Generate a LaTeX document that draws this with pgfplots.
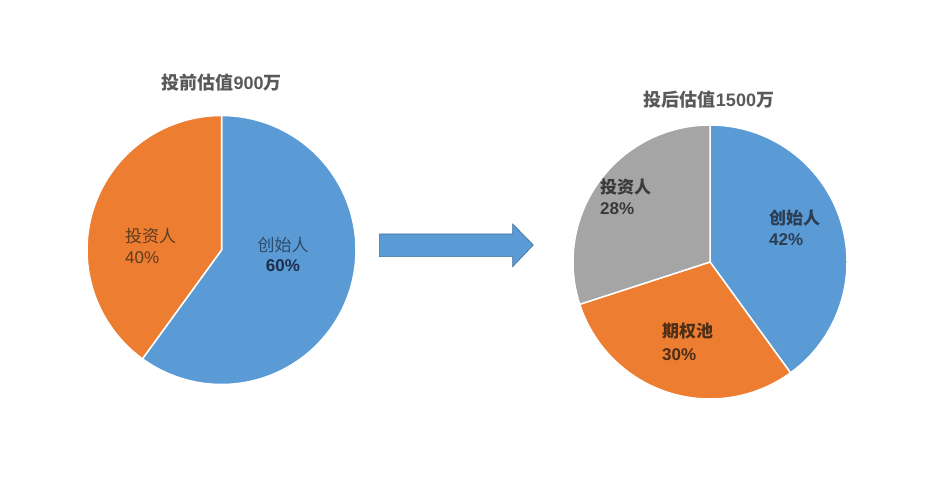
\documentclass[border=0pt]{standalone}
\usepackage{pgfplots}
\pgfplotsset{compat=1.18}
\usepackage{pgfplotstable}
\usepackage{fontspec}
\setmainfont{Liberation Sans}
\newfontfamily\cjk{Noto Sans CJK SC}
\definecolor{pblue}{HTML}{5B9BD5}
\definecolor{porange}{HTML}{ED7D31}
\definecolor{pgray}{HTML}{A5A5A5}
\definecolor{aedge}{HTML}{41719C}
\definecolor{titlegray}{HTML}{595959}

% shares as drawn (percent of the full circle), clockwise from 12 o'clock
\pgfplotstableread{
value
60
40
}\prepie
\pgfplotstableread{
value
40
30
30
}\postpie

\pgfplotstablegetelem{0}{value}\of\prepie \let\pA\pgfplotsretval
\pgfplotstablegetelem{1}{value}\of\prepie \let\pB\pgfplotsretval
\pgfplotstablegetelem{0}{value}\of\postpie \let\qA\pgfplotsretval
\pgfplotstablegetelem{1}{value}\of\postpie \let\qB\pgfplotsretval
\pgfplotstablegetelem{2}{value}\of\postpie \let\qC\pgfplotsretval

\pgfmathsetmacro\aO{90}
\pgfmathsetmacro\aA{90-3.6*\pA}
\pgfmathsetmacro\aB{\aA-3.6*\pB}
\pgfmathsetmacro\bA{90-3.6*\qA}
\pgfmathsetmacro\bB{\bA-3.6*\qB}
\pgfmathsetmacro\bC{\bB-3.6*\qC}

% #1 cx, #2 cy, #3 r, #4 from angle, #5 to angle, #6 colour
\newcommand\slice[6]{%
  \addplot[fill=#6, draw=white, line width=1.5pt, line join=round,
    domain=#4:#5, samples=150, variable=\t, mark=none]
    ({#1+#3*cos(\t)},{#2+#3*sin(\t)}) -- (axis cs:#1,#2) -- cycle;}

\begin{document}
\begin{tikzpicture}
\begin{axis}[
  width=947pt, height=478pt, scale only axis,
  xmin=0, xmax=947, ymin=0, ymax=478,
  hide axis, clip=false]
\path (axis cs:0,0) rectangle (axis cs:947,478);

% left pie
\slice{221.5}{228}{134.5}{\aA}{\aO}{pblue}
\slice{221.5}{228}{134.5}{\aB}{\aA}{porange}

% right pie
\slice{710}{216}{137}{\bA}{\aO}{pblue}
\slice{710}{216}{137}{\bB}{\bA}{porange}
\slice{710}{216}{137}{\bC}{\bB}{pgray}

% titles
\node[text=titlegray, font=\fontsize{18}{21}\selectfont\bfseries, inner sep=0pt]
  at (axis cs:221.7,395) {{\cjk 投前估值}900{\cjk 万}};
\node[text=titlegray, font=\fontsize{18}{21}\selectfont\bfseries, inner sep=0pt]
  at (axis cs:709,378) {{\cjk 投后估值}1500{\cjk 万}};

% left labels
\node[anchor=west, inner sep=0pt, text={rgb,255:red,94;green,59;blue,31}, font=\fontsize{17}{20}\selectfont\cjk]
  at (axis cs:125,242) {投资人};
\node[anchor=west, inner sep=0pt, text={rgb,255:red,94;green,59;blue,31}, font=\fontsize{17}{20}\selectfont]
  at (axis cs:125,220) {40\%};
\node[anchor=center, inner sep=0pt, text={rgb,255:red,46;green,74;blue,107}, font=\fontsize{17}{20}\selectfont\cjk]
  at (axis cs:283,233) {创始人};
\node[anchor=center, inner sep=0pt, text={rgb,255:red,27;green,47;blue,77}, font=\fontsize{17}{20}\selectfont\bfseries]
  at (axis cs:283,212) {60\%};

% right labels
\node[anchor=west, inner sep=0pt, text={rgb,255:red,58;green,58;blue,58}, font=\fontsize{17}{20}\selectfont\cjk\bfseries]
  at (axis cs:600,290.5) {投资人};
\node[anchor=west, inner sep=0pt, text={rgb,255:red,58;green,58;blue,58}, font=\fontsize{17}{20}\selectfont\bfseries]
  at (axis cs:600,269) {28\%};
\node[anchor=west, inner sep=0pt, text={rgb,255:red,43;green,61;blue,82}, font=\fontsize{17}{20}\selectfont\cjk\bfseries]
  at (axis cs:769,260) {创始人};
\node[anchor=west, inner sep=0pt, text={rgb,255:red,43;green,61;blue,82}, font=\fontsize{17}{20}\selectfont\bfseries]
  at (axis cs:769,238) {42\%};
\node[anchor=west, inner sep=0pt, text={rgb,255:red,77;green,46;blue,23}, font=\fontsize{17}{20}\selectfont\cjk\bfseries]
  at (axis cs:662,147) {期权池};
\node[anchor=west, inner sep=0pt, text={rgb,255:red,77;green,46;blue,23}, font=\fontsize{17}{20}\selectfont\bfseries]
  at (axis cs:662,123) {30\%};

% arrow
\draw[fill=pblue, draw=aedge, line width=0.6pt, line join=miter]
  (axis cs:379.3,244) -- (axis cs:512.7,244) -- (axis cs:512.7,254)
  -- (axis cs:533.3,233) -- (axis cs:512.7,211.3) -- (axis cs:512.7,221.3)
  -- (axis cs:379.3,221.3) -- cycle;
\end{axis}
\end{tikzpicture}
\end{document}
